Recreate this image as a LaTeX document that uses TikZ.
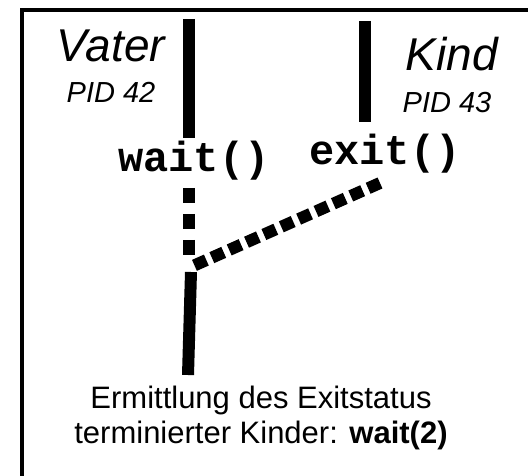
\documentclass[tikz,border=0pt]{standalone}
\usepackage{fontspec}
\setmainfont{Liberation Sans}
\setmonofont{Liberation Mono}
\usetikzlibrary{positioning}
\tikzstyle{bar}=[black, line width=12pt]
\tikzstyle{dashbar}=[black, line width=12pt, dash pattern=on 15pt off 11pt]
\tikzstyle{diagbar}=[black, line width=12pt, dash pattern=on 13pt off 6pt]
\tikzstyle{who}=[inner sep=0pt, anchor=base, font=\fontsize{46}{46}\selectfont\itshape]
\tikzstyle{pid}=[inner sep=0pt, anchor=base, font=\fontsize{29}{29}\selectfont\itshape]
\tikzstyle{call}=[inner sep=0pt, anchor=base, font=\fontsize{42}{42}\selectfont\ttfamily\bfseries]
\tikzstyle{note}=[inner sep=0pt, anchor=base, font=\fontsize{31}{35}\selectfont]

\begin{document}
\begin{tikzpicture}[x=1pt, y=-1pt]
\useasboundingbox (0,0) rectangle (528,476);
\clip (0,0) rectangle (528,476);
\draw[line width=4pt] (22,10) rectangle (560,520);

\node [who] (vater) at (111,62) {Vater};
\node [pid] (pid42) at (111,103) {PID 42};
\node [who] (kind) at (452,71) {Kind};
\node [pid] (pid43) at (447,113) {PID 43};
\node [call] (wait) at (194,172) {wait()};
\node [call] (exit) at (385,165) {exit()};

\coordinate (vtop) at (189,19);
\coordinate (vend) at (189,138);
\coordinate (ktop) at (365,21);
\coordinate (kend) at (365,122);
\coordinate (vdash) at (189,188);
\coordinate (join) at (189,258);
\coordinate (kdash) at (380,183);
\coordinate (jdiag) at (193,266);
\coordinate (rest) at (191,272);
\coordinate (rend) at (188,375);

\draw[bar] (vtop) -- (vend);
\draw[bar] (ktop) -- (kend);
\draw[dashbar] (vdash) -- (join);
\draw[diagbar] (kdash) -- (jdiag);
\draw[bar] (rest) -- (rend);

\node [note] (erm1) at (261,408) {Ermittlung des Exitstatus};
\node [note] (erm2) at (261,443) {terminierter Kinder: \textbf{wait(2)}};
\end{tikzpicture}
\end{document}
